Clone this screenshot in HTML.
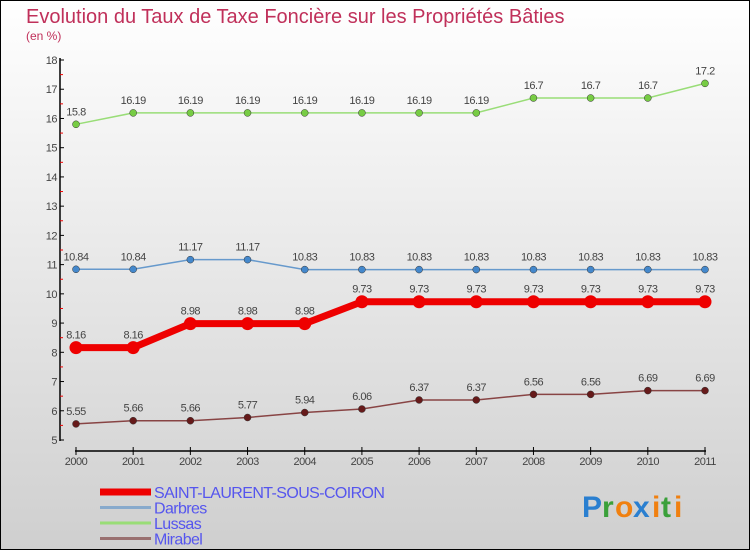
<!DOCTYPE html>
<html><head><meta charset="utf-8"><style>
html,body{margin:0;padding:0}
body{width:750px;height:550px;overflow:hidden;font-family:"Liberation Sans",sans-serif}
</style></head><body>
<svg width="750" height="550" xmlns="http://www.w3.org/2000/svg">
<defs><linearGradient id="bg" x1="0" y1="0" x2="0" y2="1"><stop offset="0" stop-color="#ffffff"/><stop offset="1" stop-color="#cfcfcf"/></linearGradient></defs>
<rect x="0.5" y="0.5" width="749" height="549" fill="url(#bg)" stroke="#000"/>
<text x="26" y="23" font-size="20" fill="#c0305a">Evolution du Taux de Taxe Foncière sur les Propriétés Bâties</text>
<text x="26" y="40" font-size="12" fill="#c0305a">(en %)</text>
<g id="axes"></g>
<g id="series"></g>
<g id="legend"></g>
<g font-size="30" font-weight="bold">
<text x="582" y="517" fill="#2a7fd0">P</text><text x="602" y="517" fill="#3aa03a">r</text><text x="615" y="517" fill="#f08010">o</text><text x="633" y="517" fill="#2a7fd0">x</text><text x="652" y="517" fill="#f08010">i</text><text x="661" y="517" fill="#3aa03a">t</text><text x="674" y="517" fill="#f08010">i</text>
</g>
</svg>
<script>
const years=["2000","2001","2002","2003","2004","2005","2006","2007","2008","2009","2010","2011"];
const yTicks=[5,6,7,8,9,10,11,12,13,14,15,16,17,18];
const saint=[8.16,8.16,8.98,8.98,8.98,9.73,9.73,9.73,9.73,9.73,9.73,9.73];
const darbres=[10.84,10.84,11.17,11.17,10.83,10.83,10.83,10.83,10.83,10.83,10.83,10.83];
const lussas=[15.8,16.19,16.19,16.19,16.19,16.19,16.19,16.19,16.7,16.7,16.7,17.2];
const mirabel=[5.55,5.66,5.66,5.77,5.94,6.06,6.37,6.37,6.56,6.56,6.69,6.69];
const NS="http://www.w3.org/2000/svg";
const X=i=>76+i*(705-76)/11;
const Y=v=>440-(v-5)*(380/13);
function mk(tag,attrs,parent,txt){const e=document.createElementNS(NS,tag);for(const k in attrs)e.setAttribute(k,attrs[k]);if(txt!==undefined)e.textContent=txt;parent.appendChild(e);return e;}
const ax=document.getElementById('axes');
let l=mk('line',{x1:60,y1:58,x2:60,y2:441,stroke:'#000','stroke-width':1.5},ax);


yTicks.forEach(v=>{
  mk('line',{x1:60,y1:Y(v),x2:64,y2:Y(v),stroke:'#000'},ax);
  if(v<18)mk('line',{x1:60,y1:Y(v+0.5),x2:63,y2:Y(v+0.5),stroke:'#e00'},ax);
  const t=mk('text',{x:57,y:Y(v)+4,'font-size':11,fill:'#444','text-anchor':'end','letter-spacing':'-0.5'},ax,String(v));
  
  
});
l=mk('line',{x1:75,y1:451,x2:706,y2:451,stroke:'#000','stroke-width':1.5},ax);


years.forEach((y,i)=>{
  mk('line',{x1:X(i),y1:447,x2:X(i),y2:455,stroke:'#000'},ax);
  const t=mk('text',{x:X(i),y:465,'font-size':11,fill:'#444','text-anchor':'middle','letter-spacing':'-0.5'},ax,y);
  
  
});
const sg=document.getElementById('series');
function series(name,data,color,w,r,fill){
  const g=mk('g',{},sg);
  
  
  mk('polyline',{points:data.map((v,i)=>X(i)+','+Y(v)).join(' '),fill:'none',stroke:color,'stroke-width':w},g);
  data.forEach((v,i)=>{
    const c=mk('circle',{cx:X(i),cy:Y(v),r:r,fill:fill,stroke:w>3?'none':'#333','stroke-width':0.5},g);
    
    
    const t=mk('text',{x:X(i),y:Y(v)-9,'font-size':11,fill:'#444','text-anchor':'middle','letter-spacing':'-0.5'},g,String(v));
    
    
  });
}
series('lussas',lussas,'#99dd77',1.5,3.5,'#77cc44');
series('darbres',darbres,'#6699cc',1.5,3.5,'#4488cc');
series('mirabel',mirabel,'#884444',1.5,3.5,'#661a1a');
series('saint-laurent',saint,'#ee0000',7,6.5,'#ee0000');
const lg=document.getElementById('legend');
const ent=[['SAINT-LAURENT-SOUS-COIRON','#ee0000',7],['Darbres','#88aacc',3],['Lussas','#99dd77',3],['Mirabel','#997070',3]];
ent.forEach((e,i)=>{
  const y=492+i*15.5;
  const g=mk('g',{},lg);
  
  
  mk('line',{x1:100,y1:y,x2:151,y2:y,stroke:e[1],'stroke-width':e[2]},g);
  mk('text',{x:154,y:y+6,'font-size':16,fill:'#5555ee','letter-spacing':'-0.6'},g,e[0]);
});
</script>
</body></html>
